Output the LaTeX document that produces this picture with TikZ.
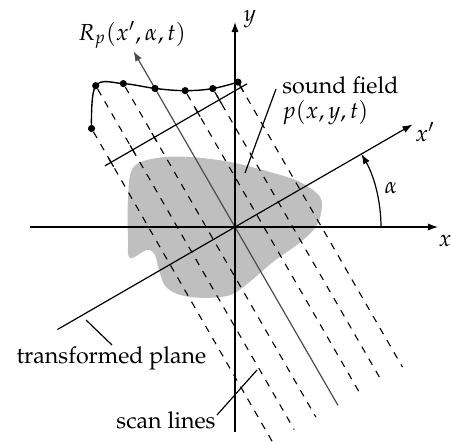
\documentclass[tikz,border=0pt]{standalone}
\usepackage[T1]{fontenc}
\usepackage{mathpazo}
\usetikzlibrary{arrows.meta}
\begin{document}
\begin{tikzpicture}[x=0.5pt,y=0.5pt,
  axis/.style={line width=0.6pt,-{Latex[length=5pt,width=3.6pt]}},
  scanline/.style={line width=0.55pt,dash pattern=on 3.5pt off 3.5pt},
  plainline/.style={line width=0.6pt},
  dotmark/.style={circle,fill,inner sep=0pt,minimum size=3.6pt},
  lbl/.style={inner sep=0pt,font=\fontsize{11.6pt}{14pt}\selectfont}]
\useasboundingbox (-235,-214) rectangle (216,227);
% sound field blob
\fill[black!25] plot[smooth cycle,tension=0.6] coordinates {
 (-107,27) (-102,59) (-78,69) (-45,70) (-5,65) (35,55) (65,45) (85,30)
 (86,14) (80,-1) (63,-17) (38,-35) (12,-57) (-8,-69) (-45,-70) (-68,-61)
 (-76,-43) (-80,-28) (-88,-23) (-105,-31) (-107,-13)};
% rotated frame
\begin{scope}[rotate=30]
  \foreach \xp/\yp in {-75/157,-50/192,-25/180,25/143,50/131,75/124}
    \draw[scanline] (\xp,\yp-4) -- (\xp,-205);
  \coordinate (ypS) at (0,-206);
  \coordinate (ypE) at (0,203);
  \draw[axis,black!70] (ypS) -- (ypE);
  \coordinate (tpA) at (-82,118);
  \coordinate (tpB) at (82,118);
  \draw[plainline] (tpA) -- (tpB);
  \foreach \xp in {-75,-50,-25,25,50,75}
    \draw[plainline] (\xp,113) -- (\xp,123);
  \draw[line width=0.7pt] plot[smooth,tension=0.6] coordinates {
    (-75,157) (-50,192) (-25,180) (0,160) (25,143) (50,131) (75,124)};
  \foreach \xp/\yp [count=\i] in {-75/157,-50/192,-25/180,0/160,25/143,50/131,75/124}
    \node[dotmark] (d\i) at (\xp,\yp) {};
  \coordinate (xpS) at (-205,0);
  \coordinate (xpE) at (205,0);
  \draw[axis] (xpS) -- (xpE);
\end{scope}
% main axes
\coordinate (xS) at (-205,0);
\coordinate (xE) at (203,0);
\coordinate (yS) at (0,-205);
\coordinate (yE) at (0,205);
\draw[axis] (xS) -- (xE);
\draw[axis] (yS) -- (yE);
% angle
\draw[axis] (146,0) arc[start angle=0,end angle=30,radius=146];
% labels
\node[lbl] (lx) at (210,-14) {$x$};
\node[lbl] (ly) at (15,208) {$y$};
\node[lbl] (lxp) at (190,95) {$x'$};
\node[lbl] (lal) at (156,39) {$\alpha$};
\node[lbl] (lR) at (-103,192) {$R_p(x',\alpha,t)$};
\node[lbl,anchor=west] (sf) at (47,142) {sound field};
\node[lbl,anchor=west] (pf) at (47,114) {$p(x,y,t)$};
\node[lbl] (tp) at (-123.5,-131) {transformed plane};
\node[lbl] (sl) at (-69,-193) {scan lines};
% pointers
\coordinate (sfP) at (10,54);
\draw[plainline] (41,138) -- (sfP);
\coordinate (tpP) at (-149,-93);
\draw[plainline] (-123,-118) -- (tpP);
\coordinate (slP) at (22,-143);
\draw[plainline] (-18,-188) -- (slP);
\end{tikzpicture}
\end{document}
